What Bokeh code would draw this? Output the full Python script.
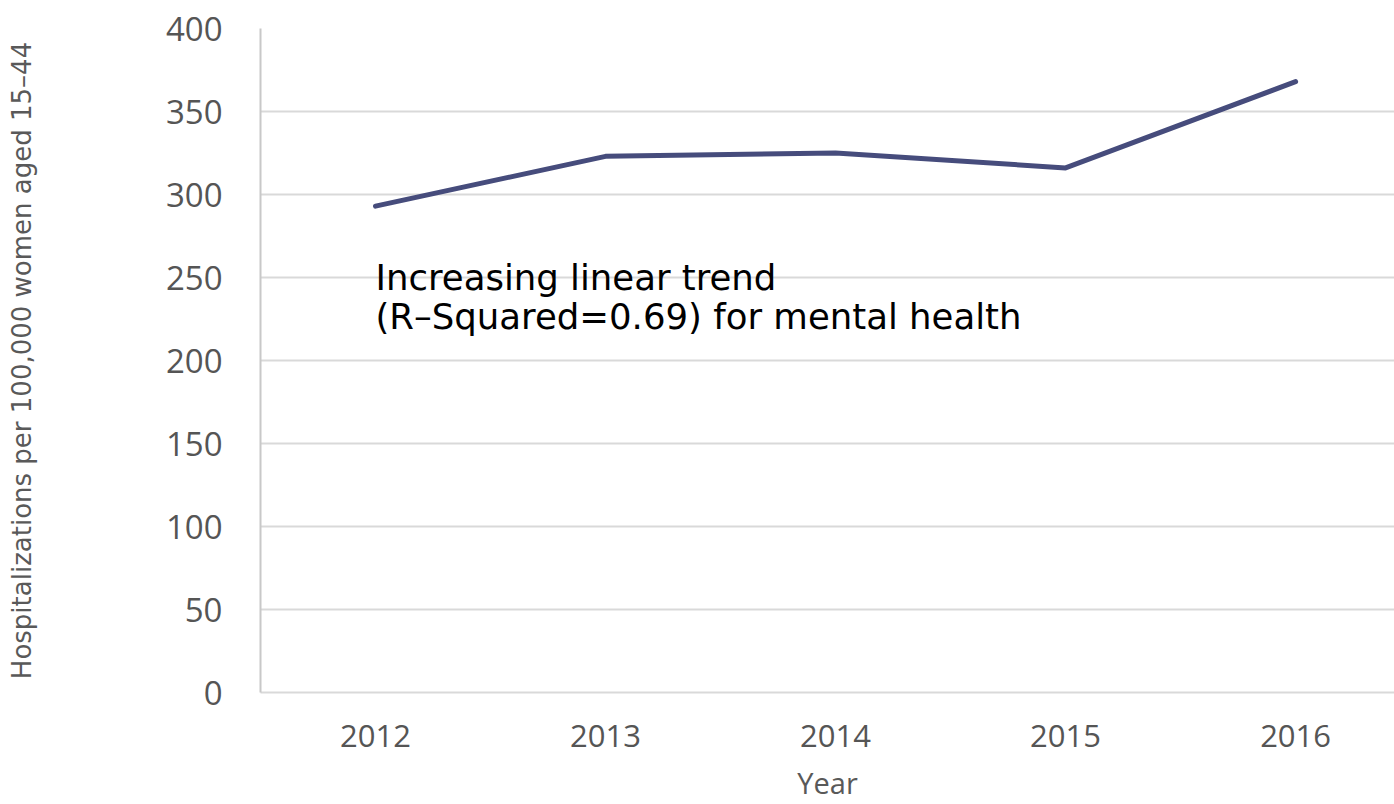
from bokeh.plotting import figure
from bokeh.models import FixedTicker, Range1d
from bokeh.core.properties import value
from bokeh.embed import file_html
from bokeh.resources import INLINE

years = [2012, 2013, 2014, 2015, 2016]
rates = [293, 323, 325, 316, 368]
y_ticks = [0, 50, 100, 150, 200, 250, 300, 350, 400]
note_lines = ["Increasing linear trend", "(R\u2013Squared=0.69) for mental health"]
note_x = [2012, 2012]
note_y = [250, 226.5]

p = figure(width=1394, height=804, output_backend="svg", toolbar_location=None,
           x_range=Range1d(2011.5, 2016.43), y_range=Range1d(0, 400),
           min_border_left=260, min_border_right=0, min_border_top=28, min_border_bottom=111)
p.outline_line_color = None
p.background_fill_color = "white"

p.line(years, rates, line_color="#464c7c", line_width=5, line_cap="round", line_join="round")
p.text(x=note_x, y=note_y, text=note_lines, text_font=value("DejaVu Sans"),
       text_font_size="35.5px", text_color="#000000", text_baseline="alphabetic", text_align="left")

p.xaxis.ticker = FixedTicker(ticks=years)
p.yaxis.ticker = FixedTicker(ticks=y_ticks)
p.xgrid.grid_line_color = None
p.ygrid.grid_line_color = "#d9d9d9"
p.ygrid.grid_line_width = 2

for ax in (p.xaxis, p.yaxis):
    ax.major_tick_line_color = None
    ax.minor_tick_line_color = None
    ax.axis_line_width = 2
    ax.major_label_text_color = "#555555"
    ax.major_label_text_font = "Open Sans"
    ax.axis_label_text_color = "#595959"
    ax.axis_label_text_font_style = "normal"

p.xaxis.axis_line_color = "#d9d9d9"
p.yaxis.axis_line_color = "#c8c8c8"
p.xaxis.major_label_text_font_size = "31px"
p.yaxis.major_label_text_font_size = "33px"
p.xaxis.major_label_standoff = 26
p.yaxis.major_label_standoff = 32
p.xaxis.axis_label = "Year"
p.xaxis.axis_label_text_font = "Open Sans"
p.xaxis.axis_label_text_font_size = "29px"
p.xaxis.axis_label_standoff = 13
p.yaxis.axis_label = "Hospitalizations per 100,000 women aged 15\u201344"
p.yaxis.axis_label_text_font = "DejaVu Sans"
p.yaxis.axis_label_text_font_size = "26px"
p.yaxis.axis_label_standoff = 126

open("out.html", "w").write(file_html(p, INLINE))
